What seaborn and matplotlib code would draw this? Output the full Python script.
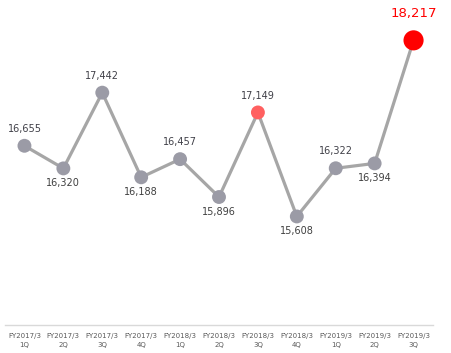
import matplotlib
matplotlib.use("Agg")
import matplotlib.pyplot as plt
import seaborn as sns
import pandas as pd

periods = ["FY2017/3\n1Q", "FY2017/3\n2Q", "FY2017/3\n3Q", "FY2017/3\n4Q",
           "FY2018/3\n1Q", "FY2018/3\n2Q", "FY2018/3\n3Q", "FY2018/3\n4Q",
           "FY2019/3\n1Q", "FY2019/3\n2Q", "FY2019/3\n3Q"]
values = [16655, 16320, 17442, 16188, 16457, 15896, 17149, 15608, 16322, 16394, 18217]
label_above = [True, False, True, False, True, False, True, False, True, False, True]

df = pd.DataFrame({"x": range(len(periods)), "v": values})

sns.set_theme(style="white")
fig = plt.figure(figsize=(4.52, 3.53), dpi=100)
ax = fig.add_axes([5/452, 28/353, 428/452, 324/353])

sns.lineplot(data=df, x="x", y="v", ax=ax, color="#a6a6a6", linewidth=2.3, zorder=2)

marker_colors = ["#9b9ba6"] * len(values)
marker_sizes = [100] * len(values)
marker_colors[6] = "#ff6060"
marker_colors[10] = "#ff0000"
marker_sizes[10] = 210
ax.scatter(df["x"], df["v"], s=marker_sizes, c=marker_colors, edgecolors="none", zorder=3)

for i, (v, above) in enumerate(zip(values, label_above)):
    if i == 10:
        ax.annotate(f"{v:,}", (i, v), xytext=(0, 15), textcoords="offset points",
                    ha="center", va="bottom", fontsize=9.5, color="#ff0000")
    elif above:
        ax.annotate(f"{v:,}", (i, v), xytext=(0, 8.5), textcoords="offset points",
                    ha="center", va="bottom", fontsize=7, color="#404048")
    else:
        ax.annotate(f"{v:,}", (i, v), xytext=(0, -7), textcoords="offset points",
                    ha="center", va="top", fontsize=7, color="#404040")

ax.set_xlim(-0.5, len(periods) - 0.5)
ax.set_ylim(14000, 18800)
ax.set_xticks(range(len(periods)))
ax.set_xticklabels(periods, fontsize=5, color="#595959", linespacing=1.6)
ax.set_xticks([i + 0.5 for i in range(-1, len(periods))], minor=True)
ax.tick_params(axis="x", which="major", length=0, pad=6)
ax.tick_params(axis="x", which="minor", length=3, color="#d9d9d9", width=0.8)
ax.set_yticks([])
ax.set_xlabel("")
ax.set_ylabel("")
for s in ["top", "right", "left"]:
    ax.spines[s].set_visible(False)
ax.spines["bottom"].set_color("#d9d9d9")
ax.spines["bottom"].set_linewidth(1.0)
ax.patch.set_alpha(0)

fig.savefig("out.png", dpi=100)
